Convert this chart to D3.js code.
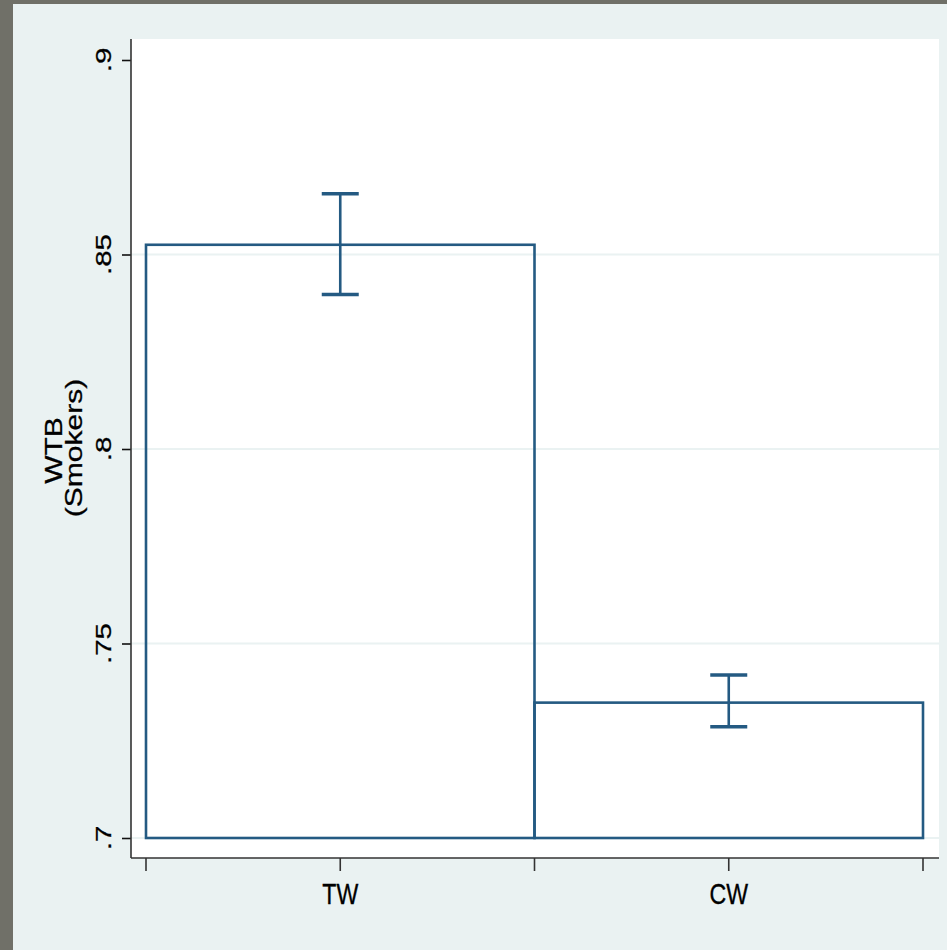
<!DOCTYPE html>
<html><head><meta charset="utf-8">
<script src="https://cdn.jsdelivr.net/npm/d3@7"></script>
<style>html,body{margin:0;padding:0;background:#eaf2f2;}svg{display:block;}</style>
</head><body>
<script>
const categories = ["TW", "CW"];
const means = [0.8525, 0.7348];
const ciLow = [0.8397, 0.7286];
const ciHigh = [0.8656, 0.7419];
const yTickValues = [0.7, 0.75, 0.8, 0.85, 0.9];
const yTickLabels = [".7", ".75", ".8", ".85", ".9"];
const gridValues = [0.7, 0.75, 0.8, 0.85];
const yTitleLines = ["WTB", "(Smokers)"];

const W = 947, H = 950;
const navy = "#245a82";
const bg = "#eaf2f2";
const sx = 0.77;
const font = "'Liberation Sans', Arial, Helvetica, sans-serif";

const svg = d3.select("body").append("svg").attr("width", W).attr("height", H);
svg.append("rect").attr("width", W).attr("height", H).attr("fill", "#707068");
svg.append("rect").attr("x", 13).attr("y", 4).attr("width", W - 13).attr("height", H - 4).attr("fill", bg);

const plot = {left: 131, right: 939, top: 39, bottom: 858};
svg.append("rect").attr("x", plot.left).attr("y", plot.top)
  .attr("width", plot.right - plot.left).attr("height", plot.bottom - plot.top).attr("fill", "#fff");

const y = d3.scaleLinear().domain([0.7, 0.9]).range([838, 60]);
const x = d3.scaleBand().domain(categories).range([146, 923]).padding(0);

// gridlines
svg.append("g").selectAll("line").data(gridValues).join("line")
  .attr("x1", plot.left).attr("x2", plot.right)
  .attr("y1", d => y(d)).attr("y2", d => y(d))
  .attr("stroke", bg).attr("stroke-width", 2);

// bars
svg.append("g").selectAll("rect").data(categories).join("rect")
  .attr("x", d => x(d)).attr("width", x.bandwidth())
  .attr("y", (d, i) => y(means[i])).attr("height", (d, i) => y(0.7) - y(means[i]))
  .attr("fill", "none").attr("stroke", navy).attr("stroke-width", 2.6);

// error bars
const eb = svg.append("g").attr("stroke", navy);
categories.forEach((c, i) => {
  const cx = x(c) + x.bandwidth() / 2;
  eb.append("line").attr("x1", cx).attr("x2", cx).attr("y1", y(ciHigh[i])).attr("y2", y(ciLow[i])).attr("stroke-width", 2.6);
  [ciHigh[i], ciLow[i]].forEach(v => {
    eb.append("line").attr("x1", cx - 18.5).attr("x2", cx + 18.5).attr("y1", y(v)).attr("y2", y(v)).attr("stroke-width", 3.4);
  });
});

// y axis
const yAxis = d3.axisLeft(y).tickValues(yTickValues).tickSize(9).tickFormat("");
const gy = svg.append("g").attr("transform", `translate(${plot.left},0)`).call(yAxis);
gy.select(".domain").remove();
gy.selectAll(".tick line").attr("stroke", "#111").attr("stroke-width", 1.6);
svg.append("line").attr("x1", plot.left).attr("x2", plot.left).attr("y1", plot.top).attr("y2", plot.bottom)
  .attr("stroke", "#333").attr("stroke-width", 1.6);

svg.append("g").selectAll("text").data(yTickValues).join("text")
  .attr("transform", d => `translate(111,${y(d)}) scale(${sx},1) rotate(-90)`)
  .attr("text-anchor", "middle").attr("font-family", font).attr("font-size", 29.5).attr("fill", "#000")
  .attr("stroke", "#000").attr("stroke-width", 0.35)
  .text((d, i) => yTickLabels[i]);

// y title
const titleX = [61.5, 81.5];
const titleY = [450.5, 448];
yTitleLines.forEach((t, i) => {
  svg.append("text")
    .attr("transform", `translate(${titleX[i]},${titleY[i]}) scale(${sx},1) rotate(-90)`)
    .attr("text-anchor", "middle").attr("font-family", font).attr("font-size", 30).attr("fill", "#000")
    .attr("stroke", "#000").attr("stroke-width", 0.35)
    .text(t);
});

// x axis
svg.append("line").attr("x1", plot.left).attr("x2", plot.right).attr("y1", plot.bottom).attr("y2", plot.bottom)
  .attr("stroke", "#333").attr("stroke-width", 1.6);
const edges = [x(categories[0])].concat(categories.map(c => x(c) + x.bandwidth()));
const centers = categories.map(c => x(c) + x.bandwidth() / 2);
svg.append("g").selectAll("line").data(edges.concat(centers)).join("line")
  .attr("x1", d => d).attr("x2", d => d).attr("y1", plot.bottom).attr("y2", 871)
  .attr("stroke", "#333").attr("stroke-width", 1.6);
svg.append("g").selectAll("text").data(categories).join("text")
  .attr("transform", c => `translate(${x(c) + x.bandwidth() / 2},904) scale(${sx},1)`)
  .attr("text-anchor", "middle").attr("font-family", font).attr("font-size", 30).attr("fill", "#000")
  .attr("stroke", "#000").attr("stroke-width", 0.35)
  .text(c => c);
</script>
</body></html>
